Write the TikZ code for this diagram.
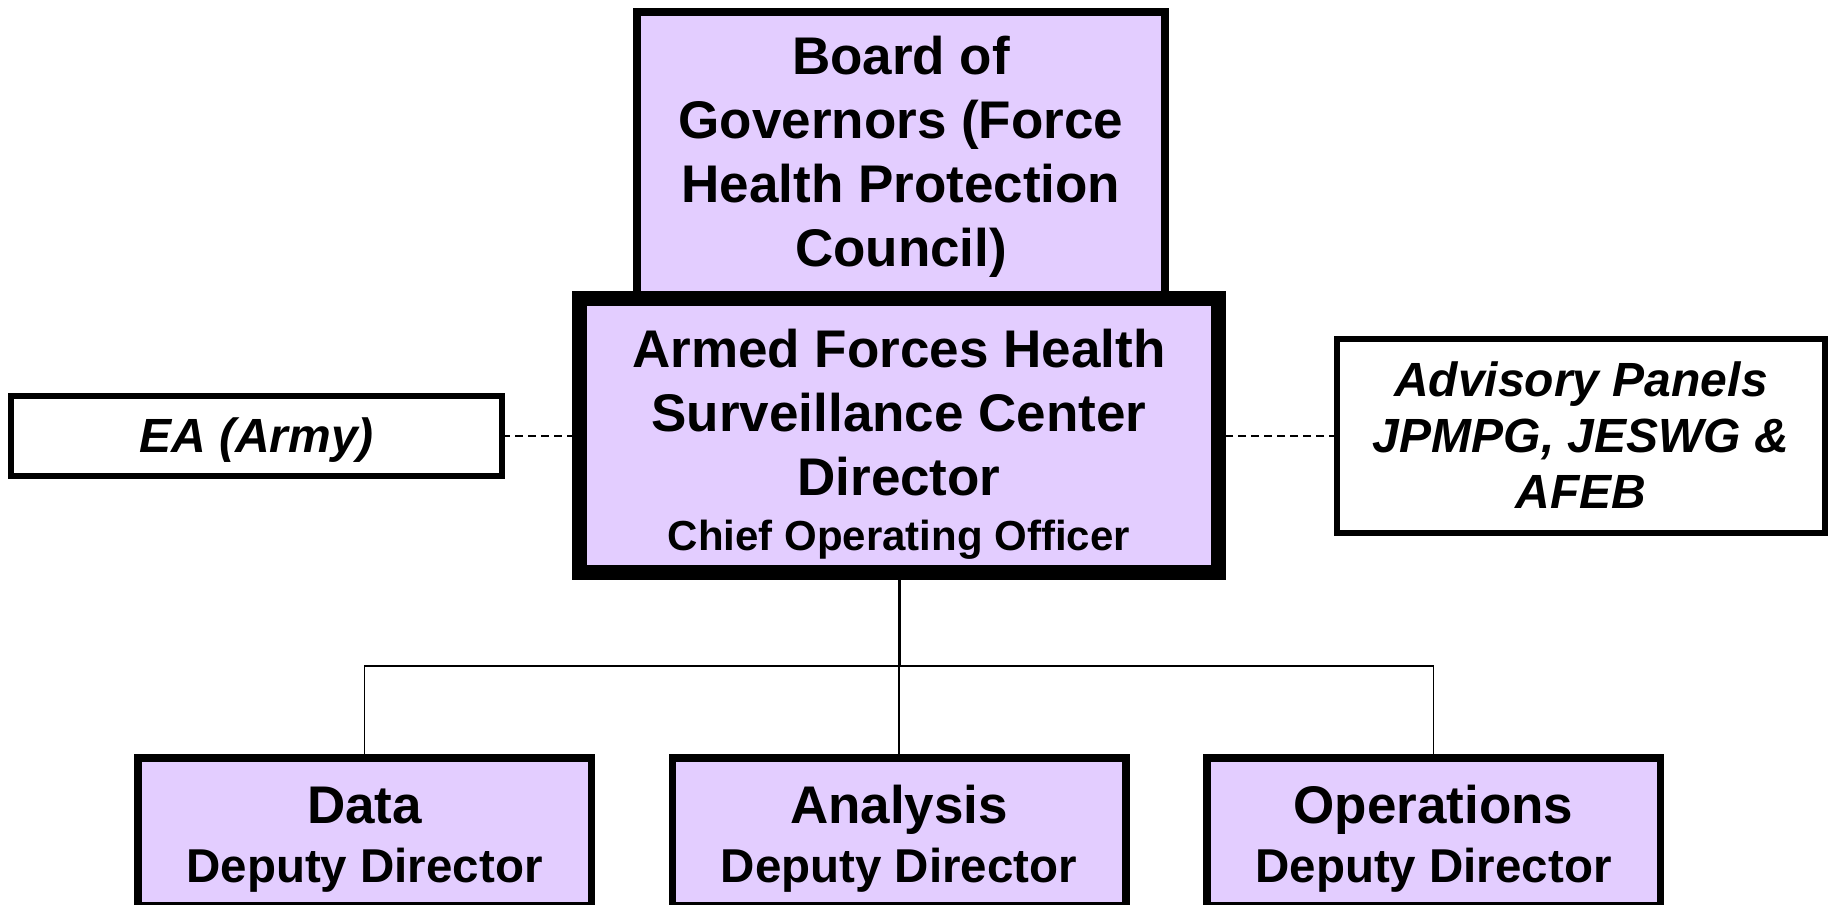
\documentclass[tikz,border=0pt]{standalone}
\usepackage{fontspec}
\setmainfont{Liberation Sans}
\usetikzlibrary{positioning}
\definecolor{lavender}{RGB}{227,205,255}
\tikzset{
  unitbox/.style={draw, fill=lavender, line width=7.5pt, inner sep=0pt, outer sep=0pt, align=center, font=\bfseries\fontsize{53}{64}\selectfont},
  sidebox/.style={draw, fill=white, line width=6pt, inner sep=0pt, outer sep=0pt, align=center, font=\bfseries\itshape\fontsize{48}{56}\selectfont},
  dotlink/.style={line width=2pt, dash pattern=on 8pt off 5pt},
  orgline/.style={line width=1.5pt}
}

\begin{document}
\begin{tikzpicture}[x=1pt,y=-1pt]
    \useasboundingbox (0,0) rectangle (1832,905);
    \node (board) at (901,155.25) [unitbox, line width=8pt, minimum width=528pt, minimum height=286.5pt] {\rule{0pt}{42pt}Board of\\Governors (Force\\Health Protection\\Council)};
    \node (director) [below=0pt of board, xshift=-2pt, unitbox, line width=15pt, minimum width=639pt, minimum height=274pt] {\rule{0pt}{55pt}Armed Forces Health\\Surveillance Center\\Director\\[-9pt]{\fontsize{42}{58}\selectfont Chief Operating Officer}};
    \node (ea) [left=77.5pt of director, sidebox, minimum width=491pt, minimum height=80pt] {\rule{0pt}{44.5pt}EA (Army)};
    \node (panels) [right=118.5pt of director, sidebox, minimum width=488pt, minimum height=194pt] {Advisory Panels\\JPMPG, JESWG \&\\AFEB};
    \node (analysis) [below=185.25pt of director, unitbox, minimum width=453.5pt, minimum height=148.25pt] {\rule{0pt}{52.5pt}Analysis\\[-5pt]{\fontsize{47.5}{59}\selectfont Deputy Director}};
    \node (data) [left=81pt of analysis, unitbox, minimum width=453.5pt, minimum height=148.25pt] {\rule{0pt}{52.5pt}Data\\[-5pt]{\fontsize{47.5}{59}\selectfont Deputy Director}};
    \node (operations) [right=81pt of analysis, unitbox, minimum width=453.5pt, minimum height=148.25pt] {\rule{0pt}{52.5pt}Operations\\[-5pt]{\fontsize{47.5}{59}\selectfont Deputy Director}};
    \coordinate (branch) at ([yshift=-93.5pt]director.south);
    \draw[line width=3pt] (director.south) -- (branch);
    \draw[orgline] (data.north) |- (branch) -| (operations.north);
    \draw[orgline] (branch) -- (analysis.north);
    \draw[dotlink] (ea) -- (director);
    \draw[dotlink] (panels) -- (director);
\end{tikzpicture}
\end{document}
